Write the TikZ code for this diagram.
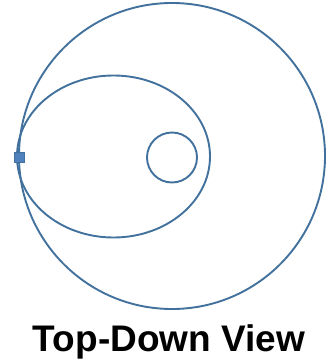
\documentclass[tikz,border=0pt]{standalone}
\usepackage{fontspec}
\setmainfont{Liberation Sans}
\definecolor{outline}{RGB}{65,113,156}
\definecolor{markfill}{RGB}{79,129,189}
\tikzset{
  orbit/.style={draw=outline, line width=1.9pt},
  sensor/.style={draw=outline, fill=markfill, line width=0.8pt, minimum size=10pt, inner sep=0pt}
}
\begin{document}
\begin{tikzpicture}[x=1pt, y=-1pt]
    \useasboundingbox (0,0) rectangle (328,361);
    % outer circle, ellipse and inner circle
    \draw[orbit] (172,156) circle (153);
    \draw[orbit] (113.5,156.5) ellipse (96.5 and 81);
    \draw[orbit] (172,157.5) circle (25);
    % sensor on the left
    \node[sensor] (probe) at (19.5,157.5) {};
    % caption
    \node[font=\bfseries\fontsize{37}{40}\selectfont, anchor=base] (caption) at (169,351) {Top-Down View};
\end{tikzpicture}
\end{document}
